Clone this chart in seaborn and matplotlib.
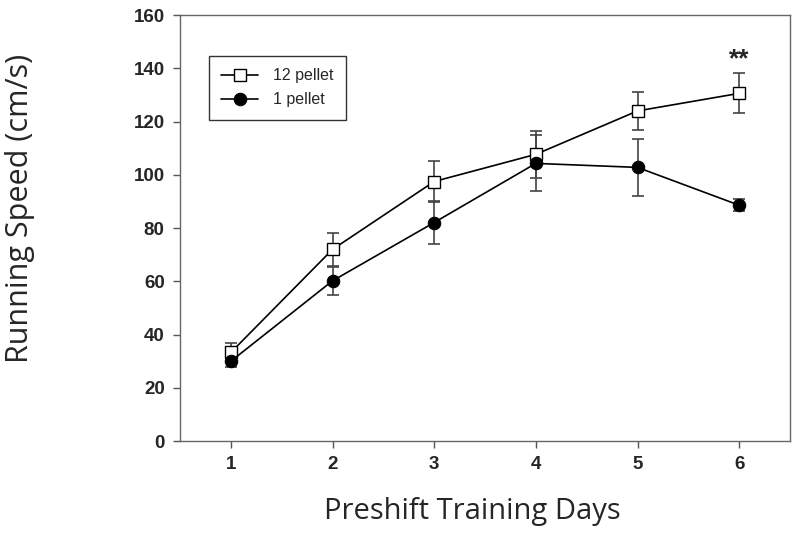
import numpy as np
import pandas as pd
import matplotlib.pyplot as plt
import seaborn as sns

# values
days = [1, 2, 3, 4, 5, 6]
pellet12_mean = [33.3, 72.0, 97.5, 107.7, 124.0, 130.6]
pellet12_err = [3.4, 6.2, 7.8, 8.7, 7.0, 7.5]
pellet1_mean = [30.0, 60.2, 82.1, 104.3, 102.8, 88.6]
pellet1_err = [2.1, 5.2, 8.2, 10.5, 10.6, 2.2]
groups = ['12 pellet', '1 pellet']

df = pd.DataFrame({
    'day': days * 2,
    'speed': pellet12_mean + pellet1_mean,
    'group': [groups[0]] * 6 + [groups[1]] * 6,
})

sns.set_style('ticks')
plt.rcParams['font.family'] = ['Liberation Sans', 'DejaVu Sans']

fig = plt.figure(figsize=(8, 5.38), dpi=100)
ax = fig.add_axes([0.225, 0.18, 0.7625, 0.792])

# error bars first, behind the markers
ax.errorbar(days, pellet12_mean, yerr=pellet12_err, fmt='none', ecolor='#444444',
            elinewidth=1.2, capsize=4.5, capthick=1.2, zorder=1)
ax.errorbar(days, pellet1_mean, yerr=pellet1_err, fmt='none', ecolor='#444444',
            elinewidth=1.2, capsize=4.5, capthick=1.2, zorder=1)

sns.lineplot(data=df, x='day', y='speed', hue='group', style='group',
             hue_order=groups, style_order=groups,
             palette=['black', 'black'], markers=['s', 'o'], dashes=False,
             markersize=9, linewidth=1.2, ax=ax, legend=False, zorder=3)

lines = ax.get_lines()
sq = [l for l in lines if l.get_marker() == 's'][0]
sq.set_markerfacecolor('white')
sq.set_markeredgecolor('black')
sq.set_markeredgewidth(1.0)
ci = [l for l in lines if l.get_marker() == 'o'][0]
ci.set_markerfacecolor('black')
ci.set_markeredgecolor('black')

leg = ax.legend([sq, ci], groups, loc='upper left', bbox_to_anchor=(0.047, 0.905),
                borderaxespad=0, frameon=True, fancybox=False, edgecolor='black',
                fontsize=11.5, handlelength=2.3, handletextpad=0.9, borderpad=0.8,
                labelspacing=0.55)
leg.get_frame().set_linewidth(1.0)

ax.text(6, 139, '**', ha='center', va='bottom', fontsize=19, fontweight='bold')

ax.set_xlim(0.5, 6.5)
ax.set_ylim(0, 160)
ax.set_xticks(days)
ax.set_yticks(np.arange(0, 161, 20))
for t in ax.get_xticklabels() + ax.get_yticklabels():
    t.set_fontweight('bold')
    t.set_fontsize(13.5)
ax.tick_params(direction='out', length=5, width=1, color='#555555', pad=6)
for s in ax.spines.values():
    s.set_color('#666666')
    s.set_linewidth(1.0)

ax.set_xlabel('Preshift Training Days', fontsize=21, family='Open Sans')
ax.set_ylabel('Running Speed (cm/s)', fontsize=22, family='Open Sans')
ax.xaxis.set_label_coords(0.48, -0.132)
ax.yaxis.set_label_coords(-0.238, 0.547)

plt.savefig('out.png', dpi=100)
